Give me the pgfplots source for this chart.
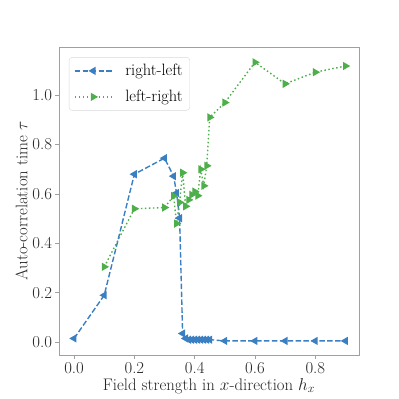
\documentclass[border=0pt]{standalone}
\usepackage{fontspec}
\usepackage{pgfplots}
\pgfplotsset{compat=1.18}
\definecolor{setblue}{HTML}{3A7FC2}
\definecolor{setgreen}{HTML}{4DAF4A}
\definecolor{framegray}{HTML}{A0A0A0}
\begin{document}
\begin{tikzpicture}
\begin{axis}[
  scale only axis,
  width=300bp, height=308bp,
  xmin=-0.05, xmax=0.945,
  ymin=-0.052, ymax=1.195,
  xtick={0,0.2,0.4,0.6,0.8},
  ytick={0,0.2,0.4,0.6,0.8,1.0},
  tick align=outside,
  tick pos=left,
  major tick length=3.5bp,
  axis line style={framegray, line width=0.8bp},
  every tick/.style={framegray, line width=0.8bp},
  /pgf/number format/assume math mode=true,
  xticklabel style={/pgf/number format/.cd, fixed, fixed zerofill, precision=1},
  yticklabel style={/pgf/number format/.cd, fixed, fixed zerofill, precision=1},
  tick label style={font=\fontsize{16.8}{20}\selectfont, text=black!85},
  label style={font=\fontsize{16.8}{20}\selectfont, text=black!85},
  xlabel={Field strength in $x$-direction $h_x$},
  ylabel={Auto-correlation time $\tau$},
  xlabel style={yshift=2bp},
  ylabel style={yshift=-2bp},
  legend style={at={(0.033,0.967)}, anchor=north west, draw=black!15, rounded corners=3bp,
    font=\fontsize{16.5}{19}\selectfont, row sep=9bp, column sep=11bp,
    inner xsep=5bp, inner ysep=5bp},
  legend cell align=left,
  legend image code/.code={%
    \draw[mark repeat=2, mark phase=2] plot coordinates {(0cm,0cm) (0.65cm,0cm) (1.3cm,0cm)};},
]
\addplot[setblue, line width=1.4bp, dash pattern=on 5.5bp off 2.4bp,
  mark=triangle*, mark size=3.4bp, mark options={solid, rotate=90}]
coordinates {
(0.0,0.015) (0.1,0.19) (0.2,0.68) (0.3,0.745) (0.33,0.672) (0.34,0.604) (0.35,0.502)
(0.36,0.035) (0.37,0.015) (0.38,0.01) (0.39,0.01) (0.40,0.01) (0.41,0.01) (0.42,0.01)
(0.43,0.01) (0.44,0.01) (0.45,0.01) (0.5,0.005) (0.6,0.005) (0.7,0.005) (0.8,0.005) (0.9,0.005)
};
\addlegendentry{right-left}
\addplot[setgreen, line width=1.4bp, dash pattern=on 1.5bp off 2.5bp,
  mark=triangle*, mark size=3.4bp, mark options={solid, rotate=-90}]
coordinates {
(0.1,0.305) (0.2,0.54) (0.3,0.545) (0.33,0.592) (0.34,0.48) (0.35,0.566) (0.36,0.686)
(0.37,0.55) (0.38,0.576) (0.39,0.597) (0.40,0.61) (0.41,0.593) (0.42,0.70) (0.43,0.633)
(0.44,0.714) (0.45,0.91) (0.5,0.97) (0.6,1.133) (0.7,1.046) (0.8,1.093) (0.9,1.118)
};
\addlegendentry{left-right}
\end{axis}
\path (current axis.south west) +(-59bp,-44bp) (current axis.north east) +(40bp,47bp);
\end{tikzpicture}
\end{document}
